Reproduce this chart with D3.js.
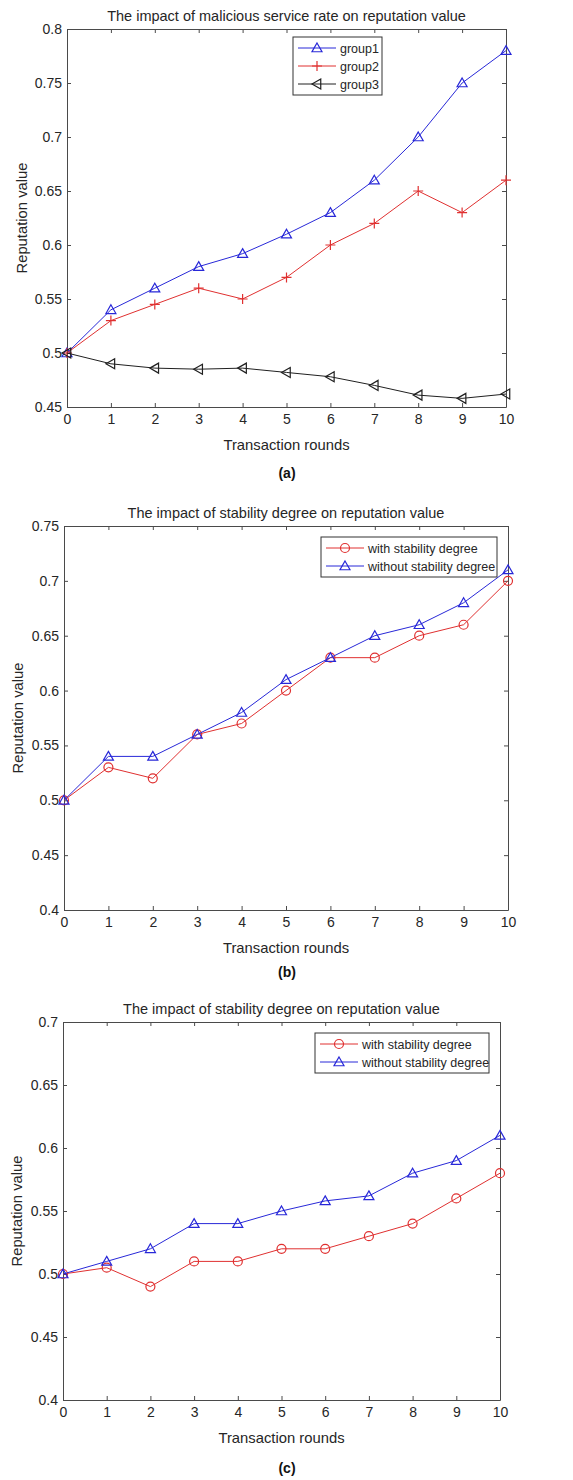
<!DOCTYPE html>
<html>
<head>
<meta charset="utf-8">
<script src="https://cdn.jsdelivr.net/npm/d3@7"></script>
<style>
  body { margin: 0; background: #fff; }
  svg { display: block; font-family: "Liberation Sans", Arial, sans-serif; }
</style>
</head>
<body>
<svg id="chart" width="573" height="1480"></svg>
<script>
// x axis: transaction rounds
let rounds = [0, 1, 2, 3, 4, 5, 6, 7, 8, 9, 10]

// panel (a)
let group1 = [0.5, 0.54, 0.56, 0.58, 0.592, 0.61, 0.63, 0.66, 0.70, 0.75, 0.78]
let group2 = [0.5, 0.53, 0.545, 0.56, 0.55, 0.57, 0.60, 0.62, 0.65, 0.63, 0.66]
let group3 = [0.5, 0.49, 0.486, 0.485, 0.486, 0.482, 0.478, 0.47, 0.461, 0.458, 0.462]
let yTicksA = [0.45, 0.5, 0.55, 0.6, 0.65, 0.7, 0.75, 0.8]

// panel (b)
let withStabB = [0.5, 0.53, 0.52, 0.56, 0.57, 0.60, 0.63, 0.63, 0.65, 0.66, 0.70]
let withoutStabB = [0.5, 0.54, 0.54, 0.56, 0.58, 0.61, 0.63, 0.65, 0.66, 0.68, 0.71]
let yTicksB = [0.4, 0.45, 0.5, 0.55, 0.6, 0.65, 0.7, 0.75]

// panel (c)
let withStabC = [0.5, 0.505, 0.49, 0.51, 0.51, 0.52, 0.52, 0.53, 0.54, 0.56, 0.58]
let withoutStabC = [0.5, 0.51, 0.52, 0.54, 0.54, 0.55, 0.558, 0.562, 0.58, 0.59, 0.61]
let yTicksC = [0.4, 0.45, 0.5, 0.55, 0.6, 0.65, 0.7]

const BLUE = '#2828d8'
const RED = '#e03030'
const BLACK = '#202020'
const AXIS = '#4a4a4a'
const TEXT = '#262626'

const svg = d3.select('#chart')

// marker shapes, centered at 0,0
function markerPath(type, r) {
  if (type === 'up') return `M0,${-r}L${r},${r * 0.75}L${-r},${r * 0.75}Z`
  if (type === 'left') return `M${-r},0L${r * 0.75},${-r}L${r * 0.75},${r}Z`
  if (type === 'plus') return `M${-r},0H${r}M0,${-r}V${r}`
  return d3.arc()({ innerRadius: 0, outerRadius: r * 0.9, startAngle: 0, endAngle: 2 * Math.PI })
}

function fmt(d) { return String(+d.toFixed(2)) }

function drawPanel(p) {
  const g = svg.append('g')
  const x = d3.scaleLinear().domain([0, 10]).range([p.left, p.right])
  const y = d3.scaleLinear().domain([p.yTicks[0], p.yTicks[p.yTicks.length - 1]]).range([p.bottom, p.top])

  // box with inward ticks on all sides
  g.append('g').attr('transform', `translate(0,${p.bottom})`)
    .call(d3.axisBottom(x).tickValues(rounds).tickSizeInner(-4).tickSizeOuter(0).tickPadding(7))
  g.append('g').attr('transform', `translate(0,${p.top})`)
    .call(d3.axisTop(x).tickValues(rounds).tickSizeInner(-4).tickSizeOuter(0).tickFormat(''))
  g.append('g').attr('transform', `translate(${p.left},0)`)
    .call(d3.axisLeft(y).tickValues(p.yTicks).tickFormat(fmt).tickSizeInner(-4).tickSizeOuter(0).tickPadding(5))
  g.append('g').attr('transform', `translate(${p.right},0)`)
    .call(d3.axisRight(y).tickValues(p.yTicks).tickSizeInner(-4).tickSizeOuter(0).tickFormat(''))

  g.selectAll('.domain, .tick line').attr('stroke', AXIS).attr('stroke-width', 1)
  g.selectAll('.tick text').attr('fill', TEXT).style('font-size', '14px')
    .style('font-family', '"Liberation Sans", Arial, sans-serif')

  // title and labels
  g.append('text').text(p.title)
    .attr('x', (p.left + p.right) / 2).attr('y', p.top - 8)
    .attr('text-anchor', 'middle').attr('fill', TEXT).style('font-size', '14.5px')
  g.append('text').text('Transaction rounds')
    .attr('x', (p.left + p.right) / 2).attr('y', p.bottom + 43)
    .attr('text-anchor', 'middle').attr('fill', TEXT).style('font-size', '14.8px')
  g.append('text').text('Reputation value')
    .attr('transform', `translate(${p.yLabelX},${(p.top + p.bottom) / 2}) rotate(-90)`)
    .attr('text-anchor', 'middle').attr('fill', TEXT).style('font-size', '14.8px')
  g.append('text').text(p.tag)
    .attr('x', 287).attr('y', p.tagY)
    .attr('text-anchor', 'middle').attr('fill', '#111').style('font-size', '14px').style('font-weight', 'bold')

  // series
  const line = d3.line().x((d, i) => x(rounds[i])).y(d => y(d))
  p.series.forEach(s => {
    g.append('path').datum(s.values)
      .attr('d', line).attr('fill', 'none').attr('stroke', s.color).attr('stroke-width', 1)
    g.selectAll(null).data(s.values).enter()
      .append('path')
      .attr('d', markerPath(s.marker, 5))
      .attr('transform', (d, i) => `translate(${x(rounds[i])},${y(d)})`)
      .attr('fill', 'none').attr('stroke', s.color).attr('stroke-width', 1.2)
  })

  // legend
  const lg = g.append('g').attr('transform', `translate(${p.legend.x},${p.legend.y})`)
  lg.append('rect').attr('width', p.legend.w).attr('height', p.legend.h)
    .attr('fill', '#fff').attr('stroke', '#333').attr('stroke-width', 1)
  p.series.forEach((s, i) => {
    const cy = p.legend.pad + i * p.legend.step
    lg.append('line').attr('x1', 5).attr('x2', 43).attr('y1', cy).attr('y2', cy)
      .attr('stroke', s.color).attr('stroke-width', 1)
    lg.append('path').attr('d', markerPath(s.marker, 5))
      .attr('transform', `translate(24,${cy})`)
      .attr('fill', 'none').attr('stroke', s.color).attr('stroke-width', 1.2)
    lg.append('text').text(s.name).attr('x', 47).attr('y', cy + 4.5)
      .attr('fill', TEXT).style('font-size', '12.5px')
  })
}

drawPanel({
  title: 'The impact of malicious service rate on reputation value',
  tag: '(a)', tagY: 478,
  left: 67, right: 506, top: 29, bottom: 407, yLabelX: 27,
  yTicks: yTicksA,
  legend: { x: 293, y: 37, w: 89, h: 58, pad: 11, step: 18 },
  series: [
    { name: 'group1', values: group1, color: BLUE, marker: 'up' },
    { name: 'group2', values: group2, color: RED, marker: 'plus' },
    { name: 'group3', values: group3, color: BLACK, marker: 'left' }
  ]
})

drawPanel({
  title: 'The impact of stability degree on reputation value',
  tag: '(b)', tagY: 977,
  left: 64, right: 508, top: 526, bottom: 910, yLabelX: 23,
  yTicks: yTicksB,
  legend: { x: 321, y: 537, w: 176, h: 40, pad: 11, step: 18 },
  series: [
    { name: 'with stability degree', values: withStabB, color: RED, marker: 'circle' },
    { name: 'without stability degree', values: withoutStabB, color: BLUE, marker: 'up' }
  ]
})

drawPanel({
  title: 'The impact of stability degree on reputation value',
  tag: '(c)', tagY: 1473,
  left: 63, right: 500, top: 1022, bottom: 1400, yLabelX: 22,
  yTicks: yTicksC,
  legend: { x: 315, y: 1033, w: 174, h: 40, pad: 11, step: 18 },
  series: [
    { name: 'with stability degree', values: withStabC, color: RED, marker: 'circle' },
    { name: 'without stability degree', values: withoutStabC, color: BLUE, marker: 'up' }
  ]
})
</script>
</body>
</html>
